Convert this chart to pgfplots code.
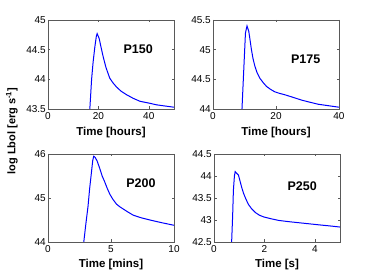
\documentclass[border=0pt]{standalone}
\usepackage{pgfplots}
\pgfplotsset{compat=1.18}
\usepackage{fontspec}
\setmainfont{Liberation Sans}
\begin{document}
\begin{tikzpicture}
\path (0pt,0pt) rectangle (374pt,280pt);
\pgfplotsset{panel/.style={scale only axis, width=126pt, height=89pt, anchor=south west,
  axis line style={gray!70!black, line width=0.4pt}, tick align=inside,
  tick style={gray!70!black, line width=0.4pt}, major tick length=2.5pt,
  ticklabel style={font=\fontsize{10}{11}\selectfont},
  yticklabel style={inner sep=2pt},
  /pgf/number format/assume math mode=true,
  xlabel style={font=\bfseries\fontsize{11.5}{13}\selectfont, at={(axis description cs:0.5,-0.26)}, anchor=center},
  every axis plot/.append style={blue, line width=1.0pt, no marks},
  clip=true}}
\begin{axis}[panel, at={(48pt,171pt)}, xmin=0, xmax=50, ymin=43.5, ymax=45,
  xtick={0,20,40}, ytick={43.5,44,44.5,45}, xlabel={Time [hours]}]
\addplot coordinates {(16.4,43.4) (16.6,43.5) (17.3,44.0) (17.9,44.29) (18.6,44.55) (19.2,44.73) (19.5,44.77) (20.3,44.69) (21.0,44.55) (21.9,44.38) (23.0,44.2) (24.5,44.02) (25.8,43.94) (27.2,43.87) (29,43.8) (31.2,43.74) (33.8,43.68) (36.5,43.63) (40,43.6) (43.1,43.57) (46.5,43.55) (50,43.53)};
\node[font=\bfseries\fontsize{12.5}{14}\selectfont] at (axis cs:35.8,44.5) {P150};
\end{axis}
\begin{axis}[panel, at={(213pt,171pt)}, xmin=0, xmax=40, ymin=44, ymax=45.5,
  xtick={0,20,40}, ytick={44,44.5,45,45.5}, xlabel={Time [hours]}]
\addplot coordinates {(9.1,43.95) (9.2,44.0) (9.8,44.7) (10.3,45.28) (10.8,45.40) (11.35,45.31) (11.8,45.15) (12.2,45.0) (12.7,44.85) (13.3,44.72) (14.0,44.61) (14.85,44.52) (16,44.44) (17.0,44.38) (18.3,44.33) (19.6,44.29) (21,44.265) (22.8,44.24) (25.5,44.195) (28.1,44.15) (30.7,44.115) (33.4,44.08) (36.7,44.055) (40,44.03)};
\node[font=\bfseries\fontsize{12.5}{14}\selectfont] at (axis cs:29.4,44.83) {P175};
\end{axis}
\begin{axis}[panel, at={(48pt,38pt)}, height=88pt, xmin=0, xmax=10, ymin=44, ymax=46,
  xtick={0,5,10}, ytick={44,45,46}, xlabel={Time [mins]}]
\addplot coordinates {(2.8,43.9) (2.84,44.0) (3.0,44.4) (3.18,44.82) (3.3,45.2) (3.45,45.59) (3.55,45.85) (3.63,45.95) (3.75,45.92) (3.9,45.84) (4.11,45.67) (4.3,45.5) (4.51,45.36) (4.7,45.22) (4.9,45.09) (5.15,44.97) (5.44,44.86) (5.7,44.8) (5.97,44.75) (6.35,44.68) (6.76,44.61) (7.4,44.55) (8.09,44.5) (9,44.44) (10,44.38)};
\node[font=\bfseries\fontsize{12.5}{14}\selectfont] at (axis cs:7.37,45.34) {P200};
\end{axis}
\begin{axis}[panel, at={(214pt,38pt)}, height=88pt, xmin=0, xmax=5, ymin=42.5, ymax=44.5,
  xtick={0,2,4}, ytick={42.5,43,43.5,44,44.5}, xlabel={Time [s]}]
\addplot coordinates {(0.69,42.4) (0.70,42.5) (0.74,43.1) (0.77,43.68) (0.81,44.0) (0.84,44.1) (0.9,44.06) (0.97,44.02) (1.04,43.87) (1.1,43.74) (1.17,43.61) (1.27,43.47) (1.37,43.35) (1.5,43.25) (1.64,43.17) (1.8,43.11) (1.97,43.07) (2.25,43.03) (2.57,42.99) (3.0,42.96) (3.5,42.93) (4.16,42.89) (4.6,42.865) (5,42.84)};
\node[font=\bfseries\fontsize{12.5}{14}\selectfont] at (axis cs:3.5,43.76) {P250};
\end{axis}
\node[rotate=90, font=\bfseries\fontsize{11}{13}\selectfont] at (12pt,149pt) {log Lbol [erg s\textsuperscript{-1}]};
\end{tikzpicture}
\end{document}
